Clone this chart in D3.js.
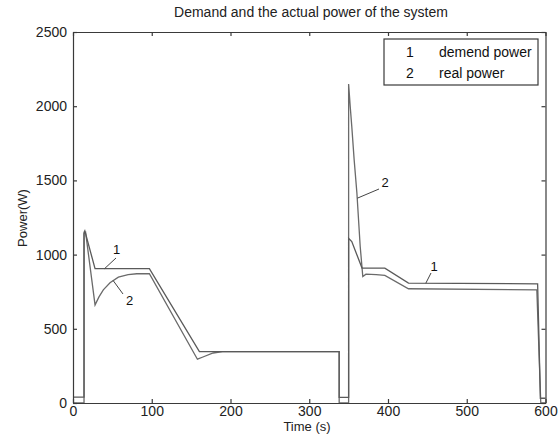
<!DOCTYPE html>
<html>
<head>
<meta charset="utf-8">
<script src="https://cdn.jsdelivr.net/npm/d3@7"></script>
<style>
  html, body { margin: 0; padding: 0; background: #fff; }
  svg { display: block; font-family: "Liberation Sans", Arial, sans-serif; }
</style>
</head>
<body>
<svg id="chart" width="559" height="442"></svg>
<script>
// ---- data ----
const titleText = "Demand and the actual power of the system";
const xLabel = "Time (s)";
const yLabel = "Power(W)";
const xTicks = [0, 100, 200, 300, 400, 500, 600];
const yTicks = [0, 500, 1000, 1500, 2000, 2500];

// series 1: demand power  [time, power]
const demandTime  = [0, 14, 14, 15, 28, 97, 160.5, 338, 338, 350, 350, 354, 367, 396, 426, 590, 593.5, 600];
const demandPower = [40, 40, 1150, 1160, 905, 905, 346, 346, 38, 38, 1110, 1088, 909, 909, 808, 803, 32, 32];

// series 2: real power [time, power]
const realTime  = [0, 14, 14, 16, 28, 33, 38.5, 47, 57.6, 70, 81, 97, 158, 165, 178, 190, 338, 338, 350, 350, 352, 354, 357, 360.5, 364.7, 368, 372, 385, 396, 426, 589, 594, 600];
const realPower = [0, 0, 1140, 1150, 661, 715, 762, 810, 848, 865, 871, 871, 295, 310, 337, 346, 346, 0, 0, 2150, 2000, 1864, 1640, 1415, 1055, 852, 868, 865, 860, 770, 762, 0, 0];

const legendIds = ["1", "2"];
const legendNames = ["demend power", "real power"];

// ---- layout ----
const svg = d3.select("#chart");
const M = { left: 73, right: 545.5, top: 32, bottom: 403 };
const x = d3.scaleLinear().domain([0, 600]).range([M.left, M.right]);
const y = d3.scaleLinear().domain([0, 2500]).range([M.bottom, M.top]);
const axisColor = "#3a3a3a";
const lineColor = "#5a5a5a";

// series lines
const line = d3.line().x(d => x(d[0])).y(d => y(d[1]));
const demand = demandTime.map((t, i) => [t, demandPower[i]]);
const real = realTime.map((t, i) => [t, realPower[i]]);

svg.append("path").datum(real).attr("d", line)
  .attr("fill", "none").attr("stroke", "#6a6a6a").attr("stroke-width", 1.3);
svg.append("path").datum(demand).attr("d", line)
  .attr("fill", "none").attr("stroke", lineColor).attr("stroke-width", 1.3);

// axes (MATLAB box style, ticks inward)
const tickLen = 4;
const fmt = d3.format("d");
const gB = svg.append("g").attr("transform", `translate(0,${M.bottom})`)
  .call(d3.axisBottom(x).tickValues(xTicks).tickFormat(fmt).tickSize(-tickLen).tickPadding(3).tickSizeOuter(0));
const gT = svg.append("g").attr("transform", `translate(0,${M.top})`)
  .call(d3.axisTop(x).tickValues(xTicks).tickSize(-tickLen).tickFormat("").tickSizeOuter(0));
const gL = svg.append("g").attr("transform", `translate(${M.left},0)`)
  .call(d3.axisLeft(y).tickValues(yTicks).tickFormat(fmt).tickSize(-tickLen).tickPadding(6).tickSizeOuter(0));
const gR = svg.append("g").attr("transform", `translate(${M.right},0)`)
  .call(d3.axisRight(y).tickValues(yTicks).tickSize(-tickLen).tickFormat("").tickSizeOuter(0));
[gB, gT, gL, gR].forEach(g => {
  g.select(".domain").attr("stroke", axisColor).attr("stroke-width", 1.2);
  g.selectAll(".tick line").attr("stroke", axisColor).attr("stroke-width", 1.2);
  g.selectAll(".tick text").attr("fill", "#222").attr("font-size", 14)
    .attr("font-family", "'Liberation Sans', Arial, sans-serif");
});

// titles
svg.append("text").attr("x", 311).attr("y", 17)
  .attr("text-anchor", "middle").attr("font-size", 14).attr("fill", "#222").text(titleText);
svg.append("text").attr("x", 307).attr("y", 431)
  .attr("text-anchor", "middle").attr("font-size", 13).attr("fill", "#222").text(xLabel);
svg.append("text").attr("transform", "translate(27,218) rotate(-90)")
  .attr("text-anchor", "middle").attr("font-size", 13).attr("fill", "#222").text(yLabel);

// curve annotations (leader lines anchored to data points)
const ann = [
  { id: "1", pt: [40, 905],  tx: [116.5, 254], l0: [116, 258] },
  { id: "2", pt: [51, 825],  tx: [129.5, 305], l0: [123, 294] },
  { id: "2", pt: [361, 1380], tx: [385, 187], l0: [379, 189] },
  { id: "1", pt: [448, 807], tx: [434, 271], l0: [431, 273] }
];
ann.forEach(a => {
  svg.append("line").attr("x1", a.l0[0]).attr("y1", a.l0[1])
    .attr("x2", x(a.pt[0])).attr("y2", y(a.pt[1]))
    .attr("stroke", "#444").attr("stroke-width", 1);
  svg.append("text").attr("x", a.tx[0]).attr("y", a.tx[1])
    .attr("text-anchor", "middle").attr("font-size", 13).attr("fill", "#111").text(a.id);
});

// legend
const lg = svg.append("g");
lg.append("rect").attr("x", 384).attr("y", 39).attr("width", 154).attr("height", 46)
  .attr("fill", "#fff").attr("stroke", axisColor).attr("stroke-width", 1.2);
legendIds.forEach((id, i) => {
  lg.append("text").attr("x", 410).attr("y", 57 + i * 21).attr("text-anchor", "middle")
    .attr("font-size", 14).attr("fill", "#111").text(id);
  lg.append("text").attr("x", 439).attr("y", 57 + i * 21)
    .attr("font-size", 14).attr("fill", "#111").text(legendNames[i]);
});
</script>
</body>
</html>
